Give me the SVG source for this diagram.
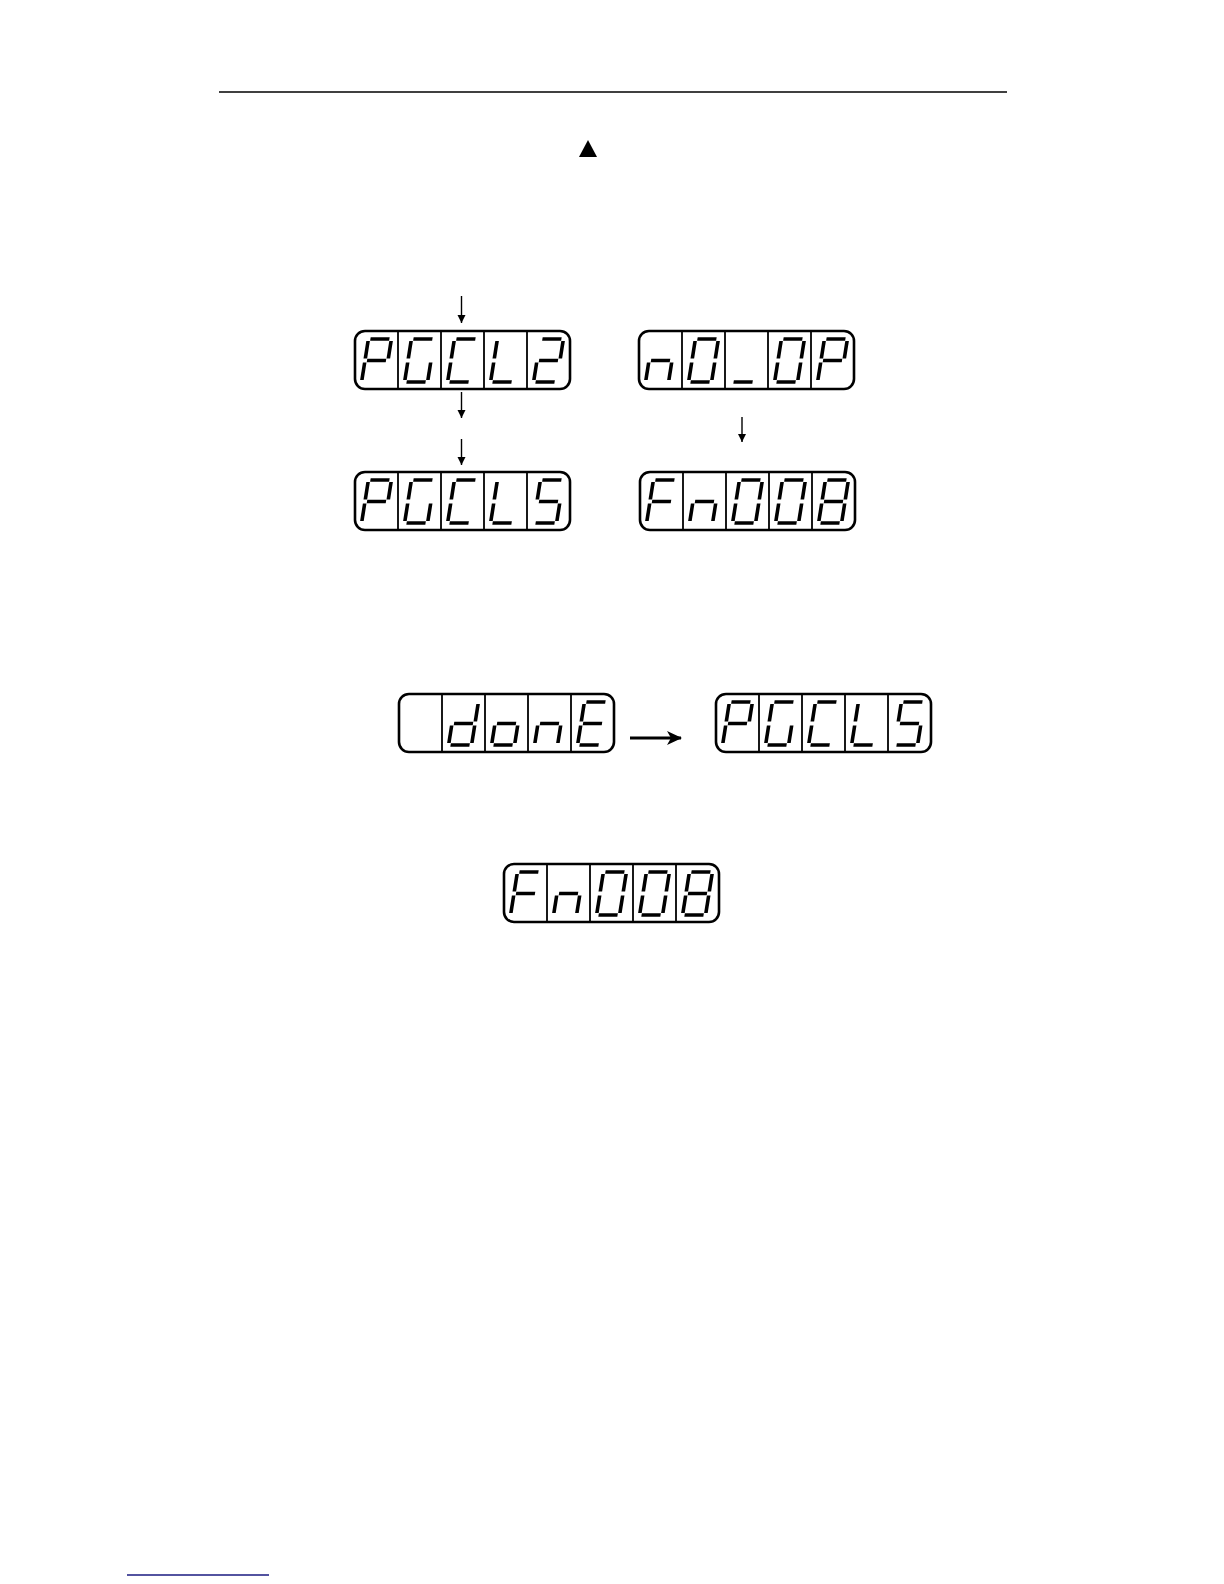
<svg xmlns="http://www.w3.org/2000/svg" xmlns:xlink="http://www.w3.org/1999/xlink" width="1224" height="1584" viewBox="0 0 1224 1584">
<style>
.frame{fill:none;stroke:#000;stroke-width:2.6}
.div{stroke:#000;stroke-width:1.8}
.seg{stroke:#000;stroke-width:3.6;stroke-linecap:butt}
.conn{stroke:#000;stroke-width:1.4;fill:none}
.big{stroke:#000;stroke-width:2.8;fill:none}
</style>
<defs>
<marker id="ah" markerUnits="userSpaceOnUse" markerWidth="8" markerHeight="10" refX="8" refY="4" orient="auto" viewBox="0 0 8 8">
<path d="M0,0 L8,4 L0,8 z" fill="#000"/>
</marker>
<marker id="ahb" markerUnits="userSpaceOnUse" markerWidth="15" markerHeight="14" refX="14" refY="7" orient="auto" viewBox="0 0 15 14">
<path d="M0,0 L15,7 L0,14 L4,7 z" fill="#000"/>
</marker>
<line id="sa" class="seg" x1="-9.5" y1="-21.5" x2="9.5" y2="-21.5"/>
<line id="sb" class="seg" x1="11.5" y1="-19.5" x2="11.5" y2="-2"/>
<line id="sc" class="seg" x1="11.5" y1="2" x2="11.5" y2="19.5"/>
<line id="sd" class="seg" x1="-9.5" y1="21.5" x2="9.5" y2="21.5"/>
<line id="se" class="seg" x1="-11.5" y1="2" x2="-11.5" y2="19.5"/>
<line id="sf" class="seg" x1="-11.5" y1="-19.5" x2="-11.5" y2="-2"/>
<line id="sg" class="seg" x1="-9.5" y1="0" x2="9.5" y2="0"/>
<g id="gP"><use xlink:href="#sa"/><use xlink:href="#sb"/><use xlink:href="#sf"/><use xlink:href="#sg"/><use xlink:href="#se"/></g>
<g id="gG"><use xlink:href="#sa"/><use xlink:href="#sf"/><use xlink:href="#se"/><use xlink:href="#sd"/><use xlink:href="#sc"/></g>
<g id="gC"><use xlink:href="#sa"/><use xlink:href="#sf"/><use xlink:href="#se"/><use xlink:href="#sd"/></g>
<g id="gL"><use xlink:href="#sf"/><use xlink:href="#se"/><use xlink:href="#sd"/></g>
<g id="g2"><use xlink:href="#sa"/><use xlink:href="#sb"/><use xlink:href="#sg"/><use xlink:href="#se"/><use xlink:href="#sd"/></g>
<g id="g5"><use xlink:href="#sa"/><use xlink:href="#sf"/><use xlink:href="#sg"/><use xlink:href="#sc"/><use xlink:href="#sd"/></g>
<g id="gn"><use xlink:href="#sg"/><use xlink:href="#se"/><use xlink:href="#sc"/></g>
<g id="g0"><use xlink:href="#sa"/><use xlink:href="#sb"/><use xlink:href="#sc"/><use xlink:href="#sd"/><use xlink:href="#se"/><use xlink:href="#sf"/></g>
<g id="gU"><use xlink:href="#sd"/></g>
<g id="gF"><use xlink:href="#sa"/><use xlink:href="#sf"/><use xlink:href="#sg"/><use xlink:href="#se"/></g>
<g id="g8"><use xlink:href="#sa"/><use xlink:href="#sb"/><use xlink:href="#sc"/><use xlink:href="#sd"/><use xlink:href="#se"/><use xlink:href="#sf"/><use xlink:href="#sg"/></g>
<g id="gd"><use xlink:href="#sb"/><use xlink:href="#sc"/><use xlink:href="#sg"/><use xlink:href="#se"/><use xlink:href="#sd"/></g>
<g id="go"><use xlink:href="#sg"/><use xlink:href="#sc"/><use xlink:href="#sd"/><use xlink:href="#se"/></g>
<g id="gE"><use xlink:href="#sa"/><use xlink:href="#sf"/><use xlink:href="#sg"/><use xlink:href="#se"/><use xlink:href="#sd"/></g>
<g id="frame5">
<rect class="frame" x="0" y="0" width="215" height="58" rx="10" ry="10"/>
<line class="div" x1="43" y1="0" x2="43" y2="58"/>
<line class="div" x1="86" y1="0" x2="86" y2="58"/>
<line class="div" x1="129" y1="0" x2="129" y2="58"/>
<line class="div" x1="172" y1="0" x2="172" y2="58"/>
</g>
</defs>
<rect width="1224" height="1584" fill="#fff"/>
<line x1="219" y1="92" x2="1007" y2="92" stroke="#000" stroke-width="1.4"/>
<polygon points="588,140 579,157 597,157" fill="#000"/>

<g id="disp-PGCL2" transform="translate(355,331)">
<use xlink:href="#frame5"/>
<use xlink:href="#gP" transform="translate(21.5,29.5) skewX(-9)"/>
<use xlink:href="#gG" transform="translate(64.5,29.5) skewX(-9)"/>
<use xlink:href="#gC" transform="translate(107.5,29.5) skewX(-9)"/>
<use xlink:href="#gL" transform="translate(150.5,29.5) skewX(-9)"/>
<use xlink:href="#g2" transform="translate(193.5,29.5) skewX(-9)"/>
</g>

<g id="disp-nO_OP" transform="translate(639,331)">
<use xlink:href="#frame5"/>
<use xlink:href="#gn" transform="translate(21.5,29.5) skewX(-9)"/>
<use xlink:href="#g0" transform="translate(64.5,29.5) skewX(-9)"/>
<use xlink:href="#gU" transform="translate(107.5,29.5) skewX(-9)"/>
<use xlink:href="#g0" transform="translate(150.5,29.5) skewX(-9)"/>
<use xlink:href="#gP" transform="translate(193.5,29.5) skewX(-9)"/>
</g>

<g id="disp-PGCL5-a" transform="translate(355,472)">
<use xlink:href="#frame5"/>
<use xlink:href="#gP" transform="translate(21.5,29.5) skewX(-9)"/>
<use xlink:href="#gG" transform="translate(64.5,29.5) skewX(-9)"/>
<use xlink:href="#gC" transform="translate(107.5,29.5) skewX(-9)"/>
<use xlink:href="#gL" transform="translate(150.5,29.5) skewX(-9)"/>
<use xlink:href="#g5" transform="translate(193.5,29.5) skewX(-9)"/>
</g>

<g id="disp-Fn008-a" transform="translate(640,472)">
<use xlink:href="#frame5"/>
<use xlink:href="#gF" transform="translate(21.5,29.5) skewX(-9)"/>
<use xlink:href="#gn" transform="translate(64.5,29.5) skewX(-9)"/>
<use xlink:href="#g0" transform="translate(107.5,29.5) skewX(-9)"/>
<use xlink:href="#g0" transform="translate(150.5,29.5) skewX(-9)"/>
<use xlink:href="#g8" transform="translate(193.5,29.5) skewX(-9)"/>
</g>

<g id="disp-done" transform="translate(399,694)">
<use xlink:href="#frame5"/>
<use xlink:href="#gd" transform="translate(64.5,29.5) skewX(-9)"/>
<use xlink:href="#go" transform="translate(107.5,29.5) skewX(-9)"/>
<use xlink:href="#gn" transform="translate(150.5,29.5) skewX(-9)"/>
<use xlink:href="#gE" transform="translate(193.5,29.5) skewX(-9)"/>
</g>

<g id="disp-PGCL5-b" transform="translate(716,694)">
<use xlink:href="#frame5"/>
<use xlink:href="#gP" transform="translate(21.5,29.5) skewX(-9)"/>
<use xlink:href="#gG" transform="translate(64.5,29.5) skewX(-9)"/>
<use xlink:href="#gC" transform="translate(107.5,29.5) skewX(-9)"/>
<use xlink:href="#gL" transform="translate(150.5,29.5) skewX(-9)"/>
<use xlink:href="#g5" transform="translate(193.5,29.5) skewX(-9)"/>
</g>

<g id="disp-Fn008-b" transform="translate(504,864)">
<use xlink:href="#frame5"/>
<use xlink:href="#gF" transform="translate(21.5,29.5) skewX(-9)"/>
<use xlink:href="#gn" transform="translate(64.5,29.5) skewX(-9)"/>
<use xlink:href="#g0" transform="translate(107.5,29.5) skewX(-9)"/>
<use xlink:href="#g0" transform="translate(150.5,29.5) skewX(-9)"/>
<use xlink:href="#g8" transform="translate(193.5,29.5) skewX(-9)"/>
</g>

<g id="connectors">
<line class="conn" x1="461.5" y1="296" x2="461.5" y2="323" marker-end="url(#ah)"/>
<line class="conn" x1="461.5" y1="392" x2="461.5" y2="418" marker-end="url(#ah)"/>
<line class="conn" x1="461.5" y1="439" x2="461.5" y2="465" marker-end="url(#ah)"/>
<line class="conn" x1="742" y1="417" x2="742" y2="442" marker-end="url(#ah)"/>
<line class="big" x1="630" y1="738" x2="681" y2="738" marker-end="url(#ahb)"/>
</g>

<line x1="127" y1="1575" x2="269" y2="1575" stroke="#1a1a80" stroke-width="1.3"/>
</svg>
